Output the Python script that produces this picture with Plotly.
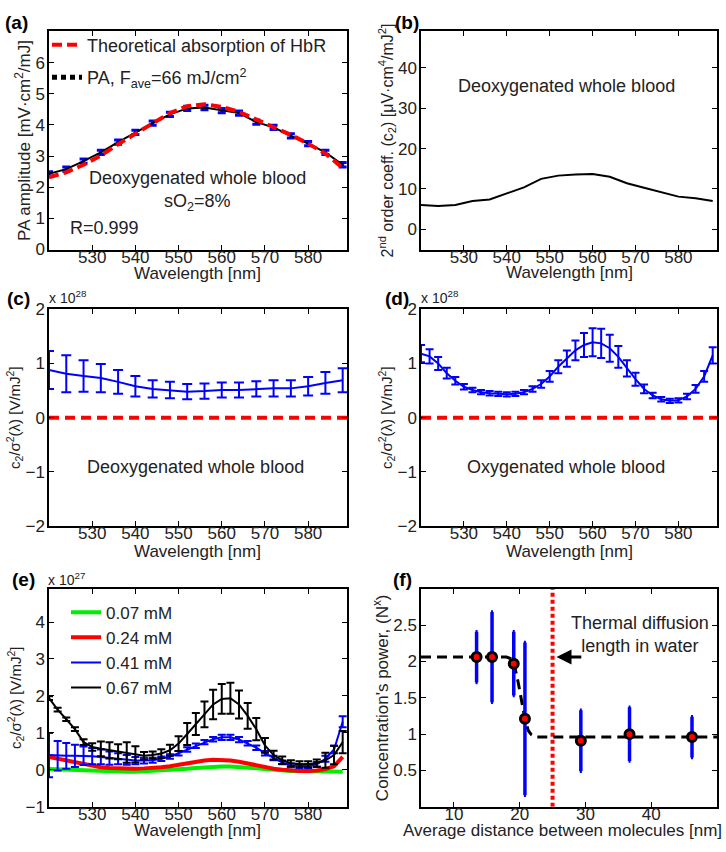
import plotly.graph_objects as go

W, H = 726, 852
FONT = "Liberation Sans, Arial, sans-serif"

# ---------------- data ----------------
# (a)
wl_a = [520, 524, 528, 532, 536, 540, 544, 548, 552, 556, 560, 564, 568, 572, 576, 580, 584, 588]
pa_amp = [2.43, 2.58, 2.84, 3.12, 3.45, 3.76, 4.06, 4.34, 4.53, 4.56, 4.46, 4.38, 4.09, 3.92, 3.65, 3.40, 3.12, 2.72]
pa_err = [0.07] * 18
hbr_theory = [2.32, 2.48, 2.72, 3.02, 3.38, 3.73, 4.05, 4.38, 4.60, 4.66, 4.58, 4.42, 4.18, 3.95, 3.68, 3.40, 3.08, 2.62]

# (b)
wl_b = [520, 524, 528, 532, 536, 540, 544, 548, 552, 556, 560, 564, 568, 572, 576, 580, 584, 588]
c2_deoxy = [6.05, 5.75, 6.05, 7.0, 7.4, 8.9, 10.4, 12.5, 13.3, 13.6, 13.7, 13.0, 11.4, 10.3, 9.2, 8.1, 7.7, 7.0]

# (c)
wl_c = [520, 524, 528, 532, 536, 540, 544, 548, 552, 556, 560, 564, 568, 572, 576, 580, 584, 588]
ratio_deoxy = [0.88, 0.81, 0.77, 0.73, 0.66, 0.58, 0.53, 0.51, 0.48, 0.49, 0.51, 0.51, 0.53, 0.54, 0.54, 0.58, 0.64, 0.69]
ratio_deoxy_err = [0.35, 0.34, 0.29, 0.26, 0.22, 0.19, 0.16, 0.15, 0.14, 0.14, 0.14, 0.14, 0.14, 0.15, 0.15, 0.17, 0.20, 0.22]

# (d)
wl_d = list(range(520, 590, 2))
ratio_oxy = [1.18, 1.13, 1.00, 0.82, 0.68, 0.57, 0.51, 0.47, 0.45, 0.44, 0.43, 0.44, 0.47, 0.53, 0.62, 0.76,
             0.94, 1.09, 1.24, 1.34, 1.39, 1.37, 1.28, 1.12, 0.91, 0.71, 0.53, 0.41, 0.34, 0.31, 0.32, 0.39,
             0.53, 0.76, 1.15]
ratio_oxy_err = [0.16, 0.13, 0.12, 0.10, 0.07, 0.05, 0.04, 0.04, 0.04, 0.04, 0.04, 0.04, 0.04, 0.05, 0.07, 0.10,
                 0.12, 0.15, 0.18, 0.22, 0.26, 0.27, 0.25, 0.20, 0.15, 0.12, 0.08, 0.05, 0.04, 0.04, 0.04, 0.05,
                 0.07, 0.10, 0.15]

# (e)
wl_e = list(range(520, 590, 2))
conc_labels = ["0.07 mM", "0.24 mM", "0.41 mM", "0.67 mM"]
r_007 = [0.02, 0.01, 0.0, -0.01, -0.02, -0.03, -0.04, -0.05, -0.05, -0.05, -0.05, -0.04, -0.03, -0.02, -0.01, 0.01,
         0.03, 0.05, 0.07, 0.08, 0.09, 0.09, 0.08, 0.06, 0.04, 0.02, 0.0, -0.02, -0.03, -0.03, -0.03, -0.04,
         -0.04, -0.05, -0.05]
r_024 = [0.35, 0.30, 0.25, 0.20, 0.15, 0.10, 0.07, 0.05, 0.04, 0.03, 0.03, 0.04, 0.05, 0.07, 0.10, 0.14,
         0.18, 0.22, 0.25, 0.27, 0.27, 0.25, 0.22, 0.17, 0.12, 0.07, 0.03, 0.0, -0.02, -0.03, -0.03, -0.02,
         0.02, 0.10, 0.35]
r_041 = [0.40, 0.38, 0.38, 0.38, 0.38, 0.37, 0.35, 0.32, 0.30, 0.27, 0.25, 0.25, 0.26, 0.30, 0.36, 0.45,
         0.55, 0.65, 0.75, 0.83, 0.88, 0.88, 0.82, 0.72, 0.60, 0.45, 0.32, 0.20, 0.12, 0.10, 0.10, 0.15,
         0.30, 0.55, 1.30]
r_041_err = [0.60, 0.40, 0.35, 0.30, 0.25, 0.22, 0.20, 0.18, 0.15, 0.13, 0.10, 0.08, 0.07, 0.06, 0.06, 0.06,
             0.06, 0.06, 0.06, 0.06, 0.07, 0.07, 0.07, 0.06, 0.06, 0.06, 0.06, 0.05, 0.05, 0.05, 0.05, 0.06,
             0.08, 0.10, 0.15]
r_067 = [1.94, 1.63, 1.37, 1.10, 0.75, 0.62, 0.57, 0.53, 0.49, 0.47, 0.42, 0.38, 0.40, 0.44, 0.53, 0.71,
         0.97, 1.24, 1.50, 1.77, 1.92, 1.94, 1.77, 1.46, 1.10, 0.66, 0.40, 0.26, 0.18, 0.15, 0.15, 0.18,
         0.26, 0.40, 0.75]
r_067_err = [0.05, 0.05, 0.05, 0.05, 0.08, 0.10, 0.20, 0.22, 0.20, 0.28, 0.22, 0.10, 0.10, 0.12, 0.15, 0.20,
             0.30, 0.30, 0.35, 0.40, 0.40, 0.42, 0.38, 0.35, 0.30, 0.20, 0.12, 0.10, 0.08, 0.08, 0.08, 0.10,
             0.20, 0.25, 0.30]

# (f)
dist_nm = [13.45, 15.8, 19.1, 20.8, 29.3, 36.7, 46.2]
conc_power = [2.06, 2.06, 1.97, 1.21, 0.91, 1.00, 0.96]
conc_power_err = [0.35, 0.62, 0.44, 1.05, 0.42, 0.37, 0.28]
fit_x = [5, 18.0, 18.6, 19.2, 19.8, 20.3, 20.8, 21.3, 21.8, 22.5, 50]
fit_y = [2.06, 2.06, 2.04, 1.95, 1.70, 1.45, 1.21, 1.05, 0.99, 0.96, 0.96]
thermal_len = [25, 25]
thermal_y = [0, 3]

# ---------------- figure ----------------
def px(v):
    return v / W

def py(v):
    return 1 - v / H

L0, L1 = 49, 347
R0, R1 = 421, 717
rows = {1: (23, 246), 2: (307, 529), 3: (593, 816)}
dom_x_left = [px(L0), px(L1)]
dom_x_right = [px(R0), px(R1)]
dom_y = {k: [py(v[1]), py(v[0])] for k, v in rows.items()}

fig = go.Figure()

BLUE = "#0000ff"
RED = "#ff0000"
GREEN = "#00ee00"

# (a)
fig.add_trace(go.Scatter(x=wl_a, y=pa_amp, mode="lines", line=dict(color="black", width=2),
                         error_y=dict(type="data", array=pa_err, color=BLUE, thickness=3, width=4),
                         showlegend=False, xaxis="x", yaxis="y"))
fig.add_trace(go.Scatter(x=wl_a, y=hbr_theory, mode="lines", name="Theoretical absorption of HbR",
                         line=dict(color=RED, width=4, dash="10px,5px"), legend="legend", legendgroup="g1",
                         xaxis="x", yaxis="y"))
fig.add_trace(go.Scatter(x=[None], y=[None], mode="lines",
                         name="PA, F<sub>ave</sub>=66 mJ/cm<sup>2</sup>",
                         line=dict(color="black", width=5, dash="5px,4px"), legend="legend", legendgroup="g2",
                         xaxis="x", yaxis="y"))

# (b)
fig.add_trace(go.Scatter(x=wl_b, y=c2_deoxy, mode="lines", line=dict(color="black", width=2),
                         showlegend=False, xaxis="x2", yaxis="y2"))

# (c)
fig.add_trace(go.Scatter(x=[520, 589], y=[0, 0], mode="lines", line=dict(color=RED, width=4, dash="10px,6px"),
                         showlegend=False, xaxis="x3", yaxis="y3"))
fig.add_trace(go.Scatter(x=wl_c, y=ratio_deoxy, mode="lines", line=dict(color=BLUE, width=2),
                         error_y=dict(type="data", array=ratio_deoxy_err, color=BLUE, thickness=2, width=5),
                         showlegend=False, xaxis="x3", yaxis="y3"))

# (d)
fig.add_trace(go.Scatter(x=[520, 589], y=[0, 0], mode="lines", line=dict(color=RED, width=4, dash="10px,6px"),
                         showlegend=False, xaxis="x4", yaxis="y4"))
fig.add_trace(go.Scatter(x=wl_d, y=ratio_oxy, mode="lines", line=dict(color=BLUE, width=2),
                         error_y=dict(type="data", array=ratio_oxy_err, color=BLUE, thickness=2, width=4),
                         showlegend=False, xaxis="x4", yaxis="y4"))

# (e)
fig.add_trace(go.Scatter(x=wl_e, y=r_007, mode="lines", name=conc_labels[0], line=dict(color=GREEN, width=4),
                         legend="legend2", xaxis="x5", yaxis="y5"))
fig.add_trace(go.Scatter(x=wl_e, y=r_024, mode="lines", name=conc_labels[1], line=dict(color=RED, width=4),
                         legend="legend2", xaxis="x5", yaxis="y5"))
fig.add_trace(go.Scatter(x=wl_e, y=r_041, mode="lines", name=conc_labels[2], line=dict(color=BLUE, width=2),
                         error_y=dict(type="data", array=r_041_err, color=BLUE, thickness=2, width=4),
                         legend="legend2", xaxis="x5", yaxis="y5"))
fig.add_trace(go.Scatter(x=wl_e, y=r_067, mode="lines", name=conc_labels[3], line=dict(color="black", width=2),
                         error_y=dict(type="data", array=r_067_err, color="black", thickness=2, width=4),
                         legend="legend2", xaxis="x5", yaxis="y5"))

# (f)
fig.add_trace(go.Scatter(x=thermal_len, y=thermal_y, mode="lines", line=dict(color=RED, width=4, dash="4px,3px"),
                         showlegend=False, xaxis="x6", yaxis="y6"))
fig.add_trace(go.Scatter(x=fit_x, y=fit_y, mode="lines", line=dict(color="black", width=3, dash="10px,6px"),
                         showlegend=False, xaxis="x6", yaxis="y6"))
fig.add_trace(go.Scatter(x=dist_nm, y=conc_power, mode="markers",
                         marker=dict(color=RED, size=9, line=dict(color="black", width=3)),
                         error_y=dict(type="data", array=conc_power_err, color=BLUE, thickness=3.5, width=1),
                         showlegend=False, xaxis="x6", yaxis="y6"))

axis_common = dict(showline=True, linecolor="black", linewidth=1.5, mirror="ticks", ticks="inside",
                   ticklen=5, tickwidth=1.2, tickcolor="black", showgrid=False, zeroline=False,
                   tickfont=dict(family=FONT, size=17, color="#222"))

wl_ticks = [530, 540, 550, 560, 570, 580]

def xax(dom, anchor, rng, ticks):
    d = dict(axis_common)
    d.update(domain=dom, anchor=anchor, range=rng, tickvals=ticks, ticklabelstandoff=-9)
    return d

def yax(dom, anchor, rng, ticks, title, tsize=17, standoff=0):
    d = dict(axis_common)
    d.update(domain=dom, anchor=anchor, range=rng, tickvals=ticks, ticklabelstandoff=-1,
             title=dict(text=title, standoff=standoff, font=dict(family=FONT, size=tsize, color="#222")))
    return d

ratio_title = "c<sub>2</sub>/σ<sup>2</sup>(λ) [V/mJ<sup>2</sup>]"

fig.update_layout(
    width=W, height=H, margin=dict(l=0, r=0, t=0, b=0),
    plot_bgcolor="white", paper_bgcolor="white",
    font=dict(family=FONT, size=18, color="#222"),
    xaxis=xax(dom_x_left, "y", [520, 589], wl_ticks),
    yaxis=yax(dom_y[1], "x", [0, 7], [0, 1, 2, 3, 4, 5, 6], "PA amplitude [mV·cm<sup>2</sup>/mJ]"),
    xaxis2=xax(dom_x_right, "y2", [520, 589], wl_ticks),
    yaxis2=yax(dom_y[1], "x2", [-5, 49], [0, 10, 20, 30, 40],
               "2<sup>nd</sup> order coeff. (c<sub>2</sub>) [μV·cm<sup>4</sup>/mJ<sup>2</sup>]", 16),
    xaxis3=xax(dom_x_left, "y3", [520, 589], wl_ticks),
    yaxis3=yax(dom_y[2], "x3", [-2, 2], [-2, -1, 0, 1, 2], ratio_title, 15),
    xaxis4=xax(dom_x_right, "y4", [520, 589], wl_ticks),
    yaxis4=yax(dom_y[2], "x4", [-2, 2], [-2, -1, 0, 1, 2], ratio_title, 15),
    xaxis5=xax(dom_x_left, "y5", [520, 589], wl_ticks),
    yaxis5=yax(dom_y[3], "x5", [-1, 4.9], [-1, 0, 1, 2, 3, 4], ratio_title, 15),
    xaxis6=xax(dom_x_right, "y6", [5, 50], [10, 20, 30, 40, 50]),
    yaxis6=yax(dom_y[3], "x6", [0, 3], [0.5, 1, 1.5, 2, 2.5], "Concentration's power, (N<sup>x</sup>)"),
    legend=dict(x=px(47), y=py(18), xanchor="left", yanchor="top", bgcolor="rgba(0,0,0,0)",
                font=dict(family=FONT, size=18, color="#222"), tracegroupgap=6, itemwidth=30),
    legend2=dict(x=px(66), y=py(599), xanchor="left", yanchor="top", bgcolor="rgba(0,0,0,0)",
                 font=dict(family=FONT, size=17, color="#222"), tracegroupgap=0, itemwidth=30),
)

ann = []
def lab(text, x, y):
    ann.append(dict(text=f"<b>{text}</b>", x=px(x), y=py(y), xref="paper", yref="paper",
                    xanchor="left", yanchor="middle", showarrow=False,
                    font=dict(family=FONT, size=19, color="black")))

lab("(a)", 3, 14)
lab("(b)", 393, 14)
lab("(c)", 5, 296)
lab("(d)", 383, 296)
lab("(e)", 10, 584)
lab("(f)", 391, 584)

def expo(text, x, y):
    ann.append(dict(text=text, x=px(x), y=py(y), xref="paper", yref="paper", xanchor="left",
                    yanchor="middle", showarrow=False, font=dict(family=FONT, size=14, color="#222")))

expo("x 10<sup>28</sup>", 47, 295)
expo("x 10<sup>28</sup>", 419, 295)
expo("x 10<sup>27</sup>", 46, 583)

def xtitle(text, x, y, anchor="center"):
    ann.append(dict(text=text, x=px(x), y=py(y), xref="paper", yref="paper", xanchor=anchor,
                    yanchor="middle", showarrow=False, font=dict(family=FONT, size=17, color="#222")))

xtitle("Wavelength [nm]", (L0 + L1) / 2, 271)
xtitle("Wavelength [nm]", (R0 + R1) / 2, 270)
xtitle("Wavelength [nm]", (L0 + L1) / 2, 555)
xtitle("Wavelength [nm]", (R0 + R1) / 2, 555)
xtitle("Wavelength [nm]", (L0 + L1) / 2, 840)
xtitle("Average distance between molecules [nm]", 724, 840, "right")

def dtext(text, x, y, xr, yr, anchor="center"):
    ann.append(dict(text=text, x=x, y=y, xref=xr, yref=yr, xanchor=anchor, yanchor="middle",
                    showarrow=False, font=dict(family=FONT, size=18, color="#222")))

dtext("Deoxygenated whole blood", 554.3, 2.3, "x", "y")
dtext("sO<sub>2</sub>=8%", 554.3, 1.5, "x", "y")
dtext("R=0.999", 524.3, 0.68, "x", "y", "left")
dtext("Deoxygenated whole blood", 554, 35.4, "x2", "y2")
dtext("Deoxygenated whole blood", 554, -0.91, "x3", "y3")
dtext("Oxygenated whole blood", 553.8, -0.91, "x4", "y4")
ann.append(dict(text="Thermal diffusion<br>length in water", x=38.3, y=2.37, xref="x6", yref="y6",
                xanchor="center", yanchor="middle", showarrow=False,
                font=dict(family=FONT, size=18, color="#222")))
ann.append(dict(text="", x=25.6, y=2.06, ax=29.6, ay=2.06, xref="x6", yref="y6", axref="x6", ayref="y6",
                showarrow=True, arrowhead=2, arrowsize=1, arrowwidth=3, arrowcolor="black"))

fig.update_layout(annotations=ann)

fig.write_html("out.html", config={"displayModeBar": False},
               post_script="document.body.style.margin='0';document.body.style.overflow='hidden';")
